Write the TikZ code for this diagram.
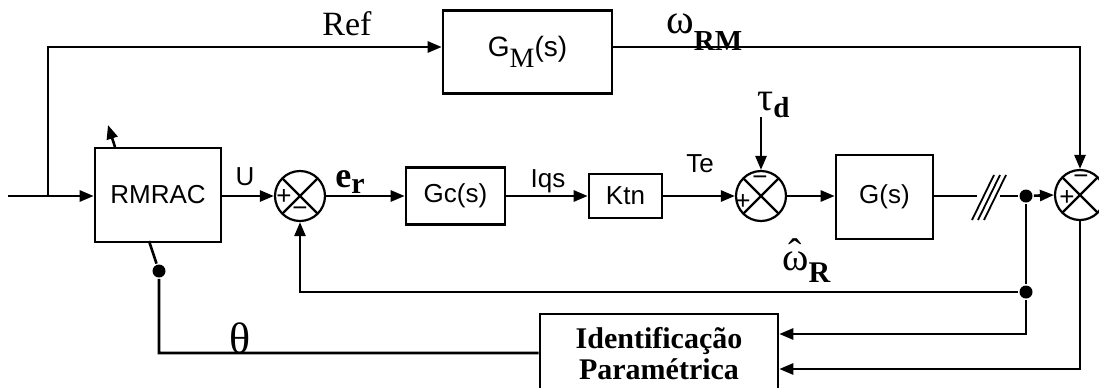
\documentclass[tikz,border=0pt]{standalone}
\usepackage{fontspec}
\setmainfont{Liberation Serif}
\setsansfont{Liberation Sans}
\usetikzlibrary{arrows.meta}
\newcommand{\fsz}[1]{\fontsize{#1}{#1}\selectfont}

\tikzset{
  blk/.style={draw,inner sep=0pt,font=\fsz{13}\sffamily},
  sumj/.style={draw,circle,line width=1.1pt,minimum size=25pt,inner sep=0pt,
    path picture={\draw[line width=1.1pt]
      (path picture bounding box.north east)--(path picture bounding box.south west)
      (path picture bounding box.north west)--(path picture bounding box.south east);}},
  sgn/.style={inner sep=0pt,font=\fsz{13}\sffamily},
  dotj/.style={circle,fill,inner sep=0pt,minimum size=6.5pt},
  lbl/.style={inner sep=0pt},
}

\begin{document}
\begin{tikzpicture}[x=0.5pt,y=-0.5pt,line width=1.3pt,
    >={Triangle[length=7pt,width=5.5pt]}]
  \useasboundingbox (0,0) rectangle (1099,387);
  % blocks
  \node[blk,minimum width=63pt,minimum height=47pt] (rmrac) at (158,195) {RMRAC};
  \node[blk,minimum width=84.5pt,minimum height=41.5pt] (gm) at (527.5,52)
    {\fsz{14}G\raisebox{-.4em}{\rmfamily\fsz{14}M}(s)};
  \node[blk,minimum width=49.5pt,minimum height=28.5pt] (gc) at (455.5,196) {Gc(s)};
  \node[blk,minimum width=36.5pt,minimum height=22pt] (ktn) at (625.5,196) {Ktn};
  \node[blk,minimum width=48.5pt,minimum height=42pt] (gs) at (884.5,197) {G(s)};
  \node[blk,minimum width=119pt,minimum height=40pt,align=center,
        font=\rmfamily\bfseries\fontsize{15}{15.5}\selectfont] (id) at (659,354)
    {Identificação\\Paramétrica};
  % summing junctions
  \node[sumj] (sum1) at (300,196) {};
  \node[sumj] (sum2) at (761,196) {};
  \node[sumj] (rsum) at (1080,195) {};
  \node[sgn] at (284,197) {+};
  \node[sgn] at (300,212) {−};
  \node[sgn] at (743,202) {+};
  \node[sgn] at (760,181) {−};
  \node[sgn] at (1067,198) {+};
  \node[sgn] at (1081,180) {−};
  % branch points
  \node[dotj] (dot1) at (1026,196) {};
  \node[dotj] (dot2) at (1026,292) {};
  \node[dotj] (dot3) at (159,271) {};
  \coordinate (in) at (8,196);
  \coordinate (br) at (48,196);
  \coordinate (top) at (48,47);
  \coordinate (td) at (761,117);
  \coordinate (brk1) at (977,196);
  \coordinate (brk2) at (1000,196);
  \coordinate (f1) at (1026,334);
  \coordinate (f2) at (1080,369);
  \coordinate (th) at (159,353);
  \coordinate (adjlo) at (149,241);
  \coordinate (adjhi) at (115,147);
  \coordinate (adjtip) at (108,125);
  % connectors
  \draw[->] (in) -- (in -| rmrac.west);
  \draw[->] (br) -- (top) -- (top -| gm.west);
  \draw[->] (top -| gm.east) -| (rsum.north);
  \draw[->] (rmrac.east |- sum1) -- (sum1.west);
  \draw[->] (sum1.east) -- (sum1.east -| gc.west);
  \draw[->] (gc.east) -- (ktn.west);
  \draw[->] (ktn.east) -- (sum2.west);
  \draw[->] (td) -- (sum2.north);
  \draw[->] (sum2.east) -- (sum2.east -| gs.west);
  \draw (gs.east |- brk1) -- (brk1);
  \draw (brk2) -- (dot1);
  \foreach \k in {0,1,2}
    \draw[line width=.9pt] ({972+6*\k},220) -- ({994+6*\k},175);
  \draw[->] (dot1) -- (rsum.west);
  \draw (dot1) -- (dot2);
  \draw[->] (dot2) -| (sum1.south);
  \draw[->] (dot2) -- (f1) -- (f1 -| id.east);
  \draw[->] (rsum.south) -- (f2) -- (f2 -| id.east);
  \draw (id.west |- th) -- (th) -- (dot3) -- (adjlo);
  \draw[->] (adjhi) -- (adjtip);
  % labels
  \node[lbl,anchor=base,font=\fsz{17}] at (347,35) {Ref};
  \node[lbl,anchor=base west,font=\fsz{21}] at (665,33)
    {ω\raisebox{-8.5pt}{\bfseries\fsz{14.5}RM}};
  \node[lbl,anchor=base,font=\fsz{13}\sffamily] at (245,185) {U};
  \node[lbl,anchor=base west,font=\bfseries\fsz{18}] at (334,187)
    {e\raisebox{-3pt}{\fsz{15}r}};
  \node[lbl,anchor=base,font=\fsz{13}\sffamily] at (548,187) {Iqs};
  \node[lbl,anchor=base,font=\fsz{13}\sffamily] at (700,172) {Te};
  \node[lbl,anchor=base west,font=\fsz{20}] at (756,110)
    {τ\raisebox{-3.5pt}{\bfseries\fsz{14.5}d}};
  \node[lbl,anchor=base west,font=\fsz{20}] at (781,270)
    {\ooalign{ω\cr\hfil\raisebox{.1em}{ˆ}\hfil\cr}\raisebox{-6pt}{\bfseries\fsz{15}R}};
  \node[lbl,anchor=base,font=\fsz{22}] at (240,353) {θ};
\end{tikzpicture}
\end{document}
